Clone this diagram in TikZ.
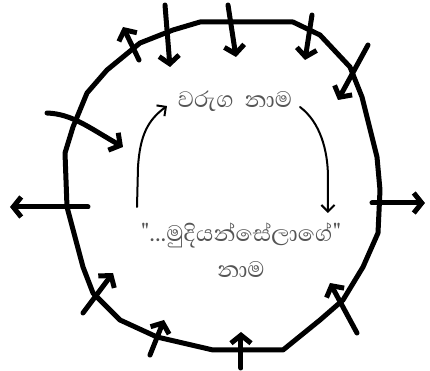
\documentclass[tikz,border=0pt]{standalone}
\usepackage{fontspec}
\newfontfamily\sinhalafont[Script=Sinhala]{Abhaya Libre}
\usepackage{tikz}
\usetikzlibrary{
    arrows.meta,
    positioning
}
\definecolor{inkgray}{RGB}{85,85,85}
\tikzset{
    ring/.style={
        draw=black,
        line width=3.75pt,
        line join=round
    },
    spoke/.style={
        -{Straight Barb[length=6pt,width=15pt]},
        line width=3.75pt,
        line cap=round
    },
    curl/.style={
        -{Straight Barb[length=5pt,width=10pt]},
        line width=1.5pt,
        line cap=round
    },
    nametext/.style={
        text=inkgray,
        align=center,
        inner sep=0pt,
        font=\sinhalafont\fontsize{21.5}{27}\selectfont
    }
}
\begin{document}
\begin{tikzpicture}[x=0.75pt,y=-0.75pt]

\useasboundingbox (0,0) rectangle (430,371);

% the outline
\draw[ring] (200,22) -- (293,22) -- (320,35) -- (350,67) -- (362,97)
    -- (377,157) -- (380,190) -- (378,233) -- (363,267) -- (343,300)
    -- (320,320) -- (283,350) -- (213,350) -- (157,337) -- (120,320)
    -- (93,293) -- (83,267) -- (67,207) -- (65,153) -- (73,127)
    -- (87,93) -- (107,70) -- (140,43) -- (173,30) -- cycle;

% arrows across the outline
\draw[spoke] (139,60) -- (123,27);
\draw[spoke] (165,5) -- (170,67);
\draw[spoke] (228,5) -- (236,57);
\draw[spoke] (312,15) -- (305,60);
\draw[spoke] (368,45) -- (338,100);
\draw[spoke] (47,113) .. controls (72,114) and (88,127) .. (123,147);
\draw[spoke] (88,207) -- (10,207);
\draw[spoke] (372,203) -- (425,203);
\draw[spoke] (83,313) -- (113,273);
\draw[spoke] (150,355) -- (164,320);
\draw[spoke] (241,368) -- (241,332);
\draw[spoke] (357,333) -- (330,283);

% the two names
\node[nametext] (clan) at (235,101) {වරුග\ \ නාම};
\node[nametext] (house) at (241,250) {"...මුදියන්සේලාගේ"\\නාම};

\coordinate (upfrom) at (137,207);
\coordinate (upto) at (167,106);
\coordinate (downfrom) at (300,107);
\coordinate (downto) at (328,213);

\draw[curl] (upfrom) -- (138,167) .. controls (140,135) and (148,120) .. (upto);
\draw[curl] (downfrom) .. controls (320,122) and (328,150) .. (328,178) -- (downto);

\end{tikzpicture}
\end{document}
